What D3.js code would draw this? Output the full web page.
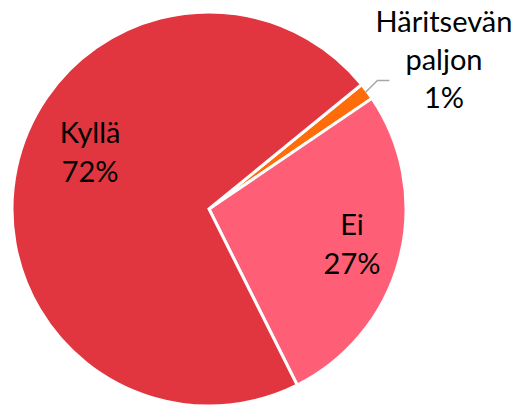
<!DOCTYPE html>
<html>
<head>
<meta charset="utf-8">
<script src="https://cdn.jsdelivr.net/npm/d3@7"></script>
<style>
  html, body { margin: 0; padding: 0; background: #fff; }
  svg { display: block; }
  text { font-family: Lato, "Open Sans", sans-serif; fill: #000; }
</style>
</head>
<body>
<svg id="chart" width="517" height="407"></svg>
<script>
// Answer categories and their shares (%)
const categories = ["Häritsevän paljon", "Ei", "Kyllä"];
const values = [1.4, 27.1, 71.5];
const labelTexts = ["1%", "27%", "72%"];
const colors = ["#FF6C0A", "#FF5E77", "#E1363F"];

const width = 517, height = 407;
const cx = 209, cy = 209, radius = 197;
const startDeg = 50.8;

const svg = d3.select("#chart");
const g = svg.append("g").attr("transform", `translate(${cx},${cy})`);

const pie = d3.pie()
  .sort(null)
  .value(d => d.value)
  .startAngle(startDeg * Math.PI / 180)
  .endAngle((startDeg + 360) * Math.PI / 180);

const data = categories.map((c, i) => ({ name: c, value: values[i], label: labelTexts[i], color: colors[i] }));
const arcs = pie(data);

const arc = d3.arc().innerRadius(0).outerRadius(radius);

g.selectAll("path.slice")
  .data(arcs)
  .join("path")
  .attr("class", "slice")
  .attr("d", arc)
  .attr("fill", d => d.data.color)
  .attr("stroke", "#fff")
  .attr("stroke-width", 3)
  .attr("stroke-linejoin", "miter");

const lineH = 39;
const fontSize = 29;

// label anchor: point along the slice's mid-angle, with a per-slice radius and angle shift
const labelLayout = {
  "Ei": { r: 147.6, dAngle: -0.3 },
  "Kyllä": { r: 131.3, dAngle: 13 }
};

arcs.filter(a => labelLayout[a.data.name]).forEach(a => {
  const lay = labelLayout[a.data.name];
  const mid = (a.startAngle + a.endAngle) / 2 + lay.dAngle * Math.PI / 180;
  const x = lay.r * Math.sin(mid);
  const y = -lay.r * Math.cos(mid);
  const t = g.append("text")
    .attr("text-anchor", "middle")
    .attr("font-size", fontSize);
  t.append("tspan").attr("x", x).attr("y", y - lineH / 2 + 9).text(a.data.name);
  t.append("tspan").attr("x", x).attr("y", y + lineH / 2 + 9).text(a.data.label);
});

// Outside label with leader line for the smallest slice
const small = arcs[0];
const midS = (small.startAngle + small.endAngle) / 2;
const p0 = [(radius - 2) * Math.sin(midS), -(radius - 2) * Math.cos(midS)];
const p1 = [p0[0] + 12, p0[1] - 12];
const p2 = [p1[0] + 12, p1[1]];
g.append("polyline")
  .attr("points", [p0, p1, p2].map(p => p.join(",")).join(" "))
  .attr("fill", "none")
  .attr("stroke", "#A6A6A6")
  .attr("stroke-width", 1.5);

const lines = ["Häritsevän", "paljon", small.data.label];
const st = g.append("text")
  .attr("text-anchor", "middle")
  .attr("font-size", fontSize);
lines.forEach((s, i) => {
  st.append("tspan")
    .attr("x", 444 - cx)
    .attr("y", 32 - cy + i * 38)
    .text(s);
});
</script>
</body>
</html>
